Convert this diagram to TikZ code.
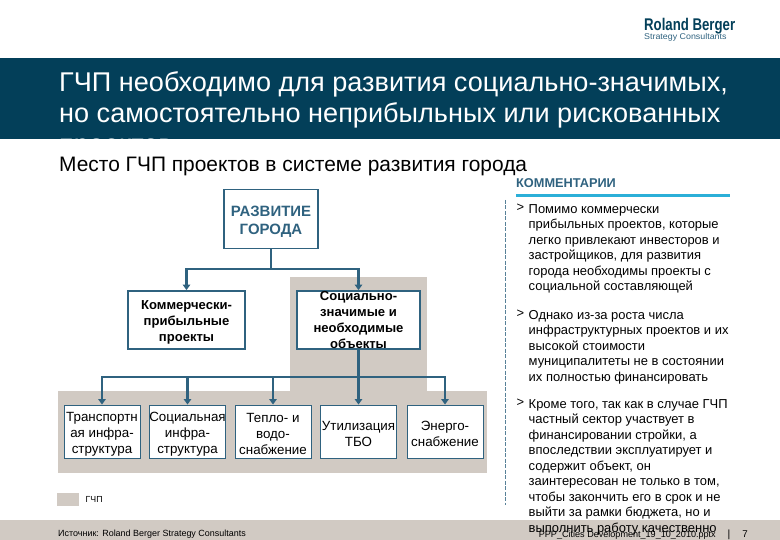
\documentclass[tikz,border=0pt]{standalone}
\usepackage{fontspec}
\setmainfont{Liberation Sans}
\usepackage{xcolor}
\usetikzlibrary{arrows.meta}
\definecolor{banner}{HTML}{033F59}
\definecolor{sand}{HTML}{D1CAC3}
\definecolor{steel}{HTML}{2F627F}
\definecolor{sky}{HTML}{2BAFD8}
\newcommand{\fs}[2]{\fontsize{#1}{#2}\selectfont}
\newcommand{\dropline}[1]{\rule{0pt}{#1}}
\tikzset{
  boxHigh/.style={draw=steel, line width=1.8bp, fill=white, align=center, inner sep=0pt},
  boxLow/.style={draw=steel, line width=0.9bp, fill=white, align=center, inner sep=0pt,
    minimum width=76bp, minimum height=53bp, font=\fs{13.4}{16}},
  link/.style={draw=steel, line width=2.7bp},
  linkTip/.style={link, -{Triangle[length=5.5bp,width=7.5bp]}},
  note/.style={anchor=north west, align=left, inner sep=0pt, font=\fs{13}{15.6}}
}
\begin{document}
\begin{tikzpicture}[x=1bp,y=-1bp]
    \useasboundingbox (0,0) rectangle (780,540);

    % Backgrounds
    \fill[banner] (0,58) rectangle (780,139);
    \fill[sand] (0,520) rectangle (780,540);
    \fill[sand] (290,277) rectangle (427,392);
    \fill[sand] (58,391) rectangle (487,473);
    \fill[sand] (57,493) rectangle (79,506);

    % Logo
    \node[anchor=base west, inner sep=0pt, text=banner, transform shape, xscale=0.78] (logoTop) at (644,30.5)
      {\fs{17}{17}\bfseries Roland Berger};
    \node[anchor=base west, inner sep=0pt, text=steel, transform shape, xscale=1.06] (logoSub) at (644,39.5)
      {\fs{8.4}{9}Strategy Consultants};

    % Title
    \node[anchor=base west, inner sep=0pt, text=white] (titleOne) at (59,92)
      {\fs{27.2}{30}ГЧП необходимо для развития социально-значимых,};
    \node[anchor=base west, inner sep=0pt, text=white] (titleTwo) at (59,123)
      {\fs{27.2}{30}но самостоятельно неприбыльных или рискованных};
    \node[anchor=base west, inner sep=0pt, text=white] (titleThree) at (59,153.2)
      {\fs{27.2}{30}проектов};
    \node[anchor=base west, inner sep=0pt] (subTitle) at (59,172)
      {\fs{21}{24}Место ГЧП проектов в системе развития города};

    % Upper boxes
    \node[boxHigh, minimum width=94bp, minimum height=59bp, text=steel, font=\fs{15}{18}\bfseries] (root) at (271,219)
      {\dropline{16pt}РАЗВИТИЕ\\ГОРОДА};
    \node[boxHigh, minimum width=117bp, minimum height=58bp, font=\fs{13.1}{16}\bfseries] (kommerc) at (186.5,320)
      {\dropline{13pt}Коммерчески-\\прибыльные\\проекты};
    \node[boxHigh, minimum width=123bp, minimum height=58bp, font=\fs{13.1}{16}\bfseries] (social) at (358.5,320)
      {Социально-\\значимые и\\необходимые\\объекты};

    % Lower boxes
    \node[boxLow] (transp) at (102,431.5) {\dropline{15pt}Транспортн\\ая инфра-\\структура};
    \node[boxLow] (infra) at (187.5,431.5) {\dropline{15pt}Социальная\\инфра-\\структура};
    \node[boxLow] (water) at (273,431.5) {\dropline{15pt}Тепло- и\\водо-\\снабжение};
    \node[boxLow] (waste) at (358.5,431.5) {\dropline{15pt}Утилизация\\ТБО};
    \node[boxLow] (energy) at (445,431.5) {\dropline{15pt}Энерго-\\снабжение};

    % Connectors
    \coordinate (busTop) at (271,269);
    \coordinate (busLow) at (358.5,377);
    \draw[link] (root.south) -- (busTop);
    \draw[linkTip] (busTop) -| (kommerc.north);
    \draw[linkTip] (busTop) -| (social.north);
    \draw[linkTip] (social.south) -- (waste.north);
    \draw[linkTip] (busLow) -| (transp.north);
    \draw[linkTip] (busLow) -| (infra.north);
    \draw[linkTip] (busLow) -| (water.north);
    \draw[linkTip] (busLow) -| (energy.north);

    % Legend and source
    \node[anchor=west, inner sep=0pt, font=\fs{8.8}{10}] (legend) at (85.5,499.5) {ГЧП};
    \node[anchor=base west, inner sep=0pt, font=\fs{9}{10}] (source) at (58,536)
      {Источник: Roland Berger Strategy Consultants};

    % Comments
    \node[anchor=base west, inner sep=0pt, text=steel, font=\fs{12.8}{14}\bfseries] (commentHead) at (516,188)
      {КОММЕНТАРИИ};
    \coordinate (ruleLeft) at (516,195.5);
    \coordinate (ruleRight) at (730,195.5);
    \draw[sky, line width=3bp] (ruleLeft) -- (ruleRight);
    \coordinate (dashTop) at (505,200);
    \coordinate (dashEnd) at (505,505);
    \draw[steel!80, line width=0.6bp, dash pattern=on 4bp off 1.5bp] (dashTop) -- (dashEnd);

    \node[note] (noteOne) at (528.5,204)
      {Помимо коммерчески\\прибыльных проектов, которые\\легко привлекают инвесторов и\\застройщиков, для развития\\города необходимы проекты с\\социальной составляющей};
    \node[note] (noteTwo) at (528.5,310)
      {Однако из-за роста числа\\инфраструктурных проектов и их\\высокой стоимости\\муниципалитеты не в состоянии\\их полностью финансировать};
    \node[note] (noteThree) at (528.5,399)
      {Кроме того, так как в случае ГЧП\\частный сектор участвует в\\финансировании стройки, а\\впоследствии эксплуатирует и\\содержит объект, он\\заинтересован не только в том,\\чтобы закончить его в срок и не\\выйти за рамки бюджета, но и\\выполнить работу качественно};
    \node[note] (markOne) at (516.5,204) {>};
    \node[note] (markTwo) at (516.5,310) {>};
    \node[note] (markThree) at (516.5,399) {>};

    % Footer
    \node[anchor=base east, inner sep=0pt, font=\fs{9.1}{11}] (fileName) at (716,537)
      {PPP\_Cities Development\_19\_10\_2010.pptx};
    \node[anchor=base, inner sep=0pt, font=\fs{10.5}{11}] (pageBar) at (729,537) {|};
    \node[anchor=base, inner sep=0pt, font=\fs{9.8}{11}] (pageNum) at (745,537) {7};
\end{tikzpicture}
\end{document}
